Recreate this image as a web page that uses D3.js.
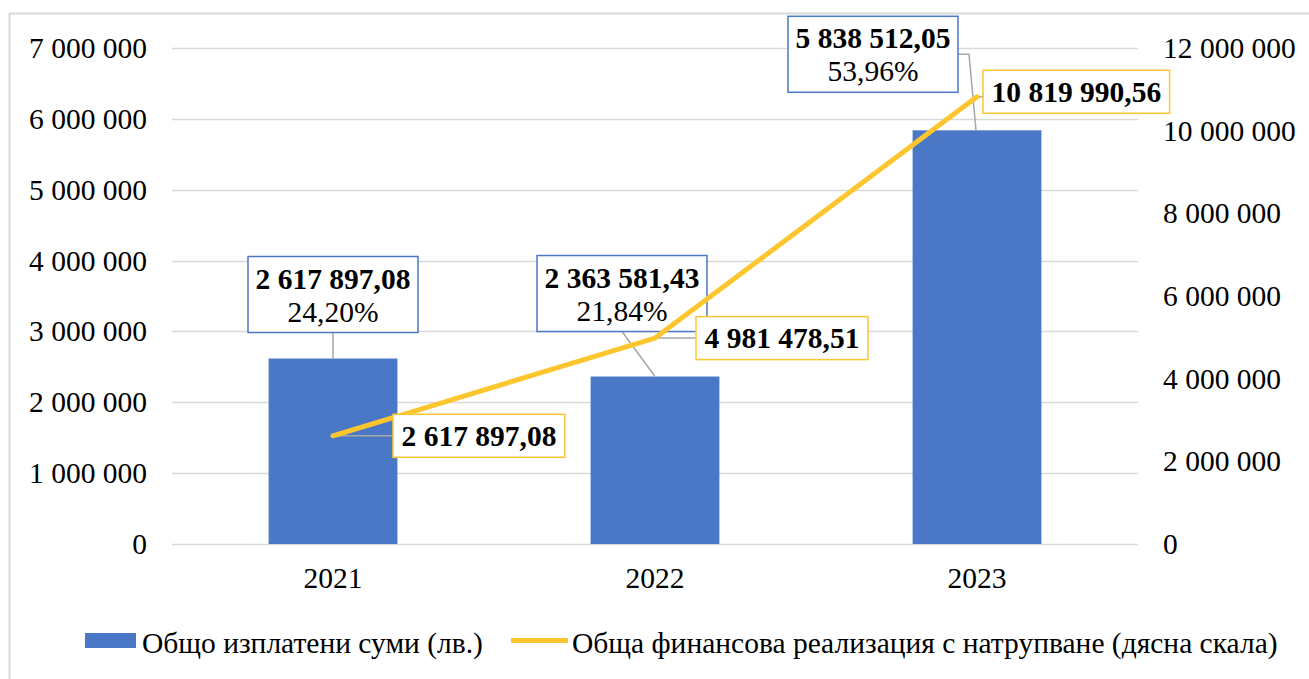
<!DOCTYPE html>
<html lang="bg">
<head>
<meta charset="UTF-8" />
<title>Chart</title>
<style>
  body { margin: 0; background: #fff; }
</style>
</head>
<body>
<svg id="chart" width="1309" height="679" font-family="'Liberation Serif', 'Times New Roman', Times, serif"></svg>
<script src="https://cdn.jsdelivr.net/npm/d3@7"></script>
<script>
// data
let years = ["2021", "2022", "2023"];
let paid = [2617897.08, 2363581.43, 5838512.05];
let paidLabels = ["2 617 897,08", "2 363 581,43", "5 838 512,05"];
let paidShare = ["24,20%", "21,84%", "53,96%"];
let cumulative = [2617897.08, 4981478.51, 10819990.56];
let cumulativeLabels = ["2 617 897,08", "4 981 478,51", "10 819 990,56"];
let leftTicks = [0, 1000000, 2000000, 3000000, 4000000, 5000000, 6000000, 7000000];
let rightTicks = [0, 2000000, 4000000, 6000000, 8000000, 10000000, 12000000];
let seriesNames = ["Общо изплатени суми (лв.)", "Обща финансова реализация с натрупване (дясна скала)"];

// label placement (layout only)
let blueBoxShift = [[0, -64], [-33, -83], [-104, -76]];
let yellowBoxShift = [[60, 0], [41, 0], [6, -5]];

let blue = "#4a78c6";
let gold = "#fec62e";
let gridColor = "#d9d9d9";
let leaderColor = "#a6a6a6";
let fontFamily = "'Liberation Serif', 'Times New Roman', Times, serif";
let fs = 29.5;

let svg = d3.select("#chart");
let plotLeft = 172, plotRight = 1138, plotTop = 48, plotBottom = 544;

// frame (only top & left visible)
svg.append("rect").attr("x", 9.5).attr("y", 13.5).attr("width", 1400).attr("height", 800)
  .attr("fill", "none").attr("stroke", gridColor).attr("stroke-width", 2);

let x = d3.scaleBand().domain(years).range([plotLeft, plotRight]).padding(0);
let yL = d3.scaleLinear().domain([0, 7000000]).range([plotBottom, plotTop]);
let yR = d3.scaleLinear().domain([0, 12000000]).range([plotBottom, plotTop]);
let fmt = v => d3.format(",")(v).replace(/,/g, " ");
let cx = d => x(d) + x.bandwidth() / 2;
let barW = x.bandwidth() * 0.4;

function label(g, txt) {
  return g.append("text").attr("font-family", fontFamily).attr("font-size", fs)
    .attr("fill", "#000").text(txt);
}

// gridlines
svg.append("g").selectAll("line").data(leftTicks).enter().append("line")
  .attr("x1", plotLeft).attr("x2", plotRight)
  .attr("y1", d => Math.round(yL(d)) + 0.5).attr("y2", d => Math.round(yL(d)) + 0.5)
  .attr("stroke", gridColor).attr("stroke-width", 1.5);

// left axis labels
let axL = svg.append("g");
leftTicks.forEach(t => label(axL, fmt(t)).attr("x", 147).attr("y", yL(t) + 10).attr("text-anchor", "end"));

// right axis labels
let axR = svg.append("g");
rightTicks.forEach(t => label(axR, fmt(t)).attr("x", 1163).attr("y", yR(t) + 10));

// x labels
let axX = svg.append("g");
years.forEach(yr => label(axX, yr).attr("x", cx(yr)).attr("y", 588).attr("text-anchor", "middle"));

// bars
svg.append("g").selectAll("rect").data(years).enter().append("rect")
  .attr("x", d => cx(d) - barW / 2).attr("width", barW)
  .attr("y", (d, i) => yL(paid[i])).attr("height", (d, i) => plotBottom - yL(paid[i]))
  .attr("fill", blue);

// blue labels
let blueG = svg.append("g");
years.forEach((yr, i) => {
  let px = cx(yr), py = yL(paid[i]);
  let bx = px + blueBoxShift[i][0], by = py + blueBoxShift[i][1];
  let w = 170, h = 76;
  let x0 = bx - w / 2, y0 = by - h / 2;
  // leader
  let pts;
  if (i === 2) pts = [[x0 + w, by], [x0 + w + 11, by], [px - 1, py]];
  else pts = [[bx, y0 + h], [px, py]];
  blueG.append("path").attr("d", d3.line()(pts)).attr("fill", "none")
    .attr("stroke", leaderColor).attr("stroke-width", 1.5);
  blueG.append("rect").attr("x", x0).attr("y", y0).attr("width", w).attr("height", h)
    .attr("fill", "#fff").attr("stroke", blue).attr("stroke-width", 1.5);
  label(blueG, paidLabels[i]).attr("x", bx).attr("y", y0 + 32).attr("text-anchor", "middle")
    .attr("font-weight", "bold");
  label(blueG, paidShare[i]).attr("x", bx).attr("y", y0 + 65).attr("text-anchor", "middle");
});

// line
let line = d3.line().x(d => cx(d.year)).y(d => yR(d.v));
let linePts = years.map((yr, i) => ({ year: yr, v: cumulative[i] }));

// yellow leaders under the line
let yellowG = svg.append("g");
years.forEach((yr, i) => {
  let px = cx(yr), py = yR(cumulative[i]);
  yellowG.append("line").attr("x1", px).attr("x2", px + yellowBoxShift[i][0])
    .attr("y1", py).attr("y2", py).attr("stroke", leaderColor).attr("stroke-width", 1.5);
});

svg.append("path").datum(linePts).attr("d", line).attr("fill", "none")
  .attr("stroke", gold).attr("stroke-width", 5).attr("stroke-linecap", "round").attr("stroke-linejoin", "round");

let yellowLabels = svg.append("g");
years.forEach((yr, i) => {
  let px = cx(yr), py = yR(cumulative[i]);
  let x0 = px + yellowBoxShift[i][0], cy = py + yellowBoxShift[i][1];
  let box = yellowLabels.append("rect");
  let t = label(yellowLabels, cumulativeLabels[i]).attr("x", x0 + 8.5).attr("y", cy + 10)
    .attr("font-weight", "bold");
  let tw = t.node().getComputedTextLength();
  box.attr("x", x0).attr("y", cy - 21.5)
    .attr("width", tw + 17).attr("height", 43)
    .attr("fill", "#fff").attr("stroke", gold).attr("stroke-width", 1.5);
});

// legend
let lg = svg.append("g");
lg.append("rect").attr("x", 85).attr("y", 633).attr("width", 51).attr("height", 15).attr("fill", blue);
label(lg, seriesNames[0]).attr("x", 142).attr("y", 653);
lg.append("line").attr("x1", 511).attr("x2", 568).attr("y1", 640.5).attr("y2", 640.5)
  .attr("stroke", gold).attr("stroke-width", 5);
label(lg, seriesNames[1]).attr("x", 572).attr("y", 653);
</script>
</body>
</html>
